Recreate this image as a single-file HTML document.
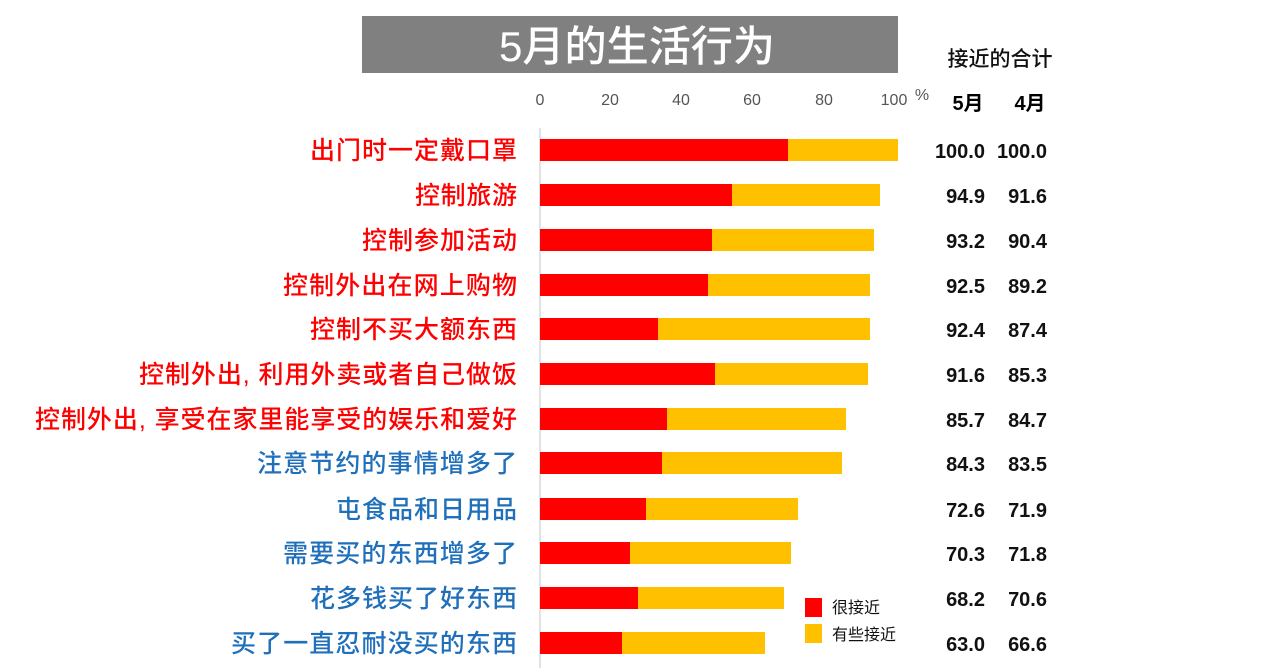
<!DOCTYPE html>
<html><head><meta charset="utf-8"><style>html,body{margin:0;padding:0;background:#fff;width:1280px;height:672px;overflow:hidden}</style></head><body>
<svg width="1280" height="672" xmlns="http://www.w3.org/2000/svg" font-family="Liberation Sans, Noto Sans CJK SC, sans-serif">
<rect x="362" y="16" width="536" height="57" fill="#808080"/>
<text x="637" y="61" text-anchor="middle" fill="#fff" font-size="42" font-weight="500" textLength="276" lengthAdjust="spacingAndGlyphs">5月的生活行为</text>
<text x="1000" y="66" text-anchor="middle" font-size="21" font-weight="500" fill="#111">接近的合计</text>
<g font-size="16" fill="#555" text-anchor="middle">
<text x="540" y="105">0</text><text x="610" y="105">20</text><text x="681" y="105">40</text><text x="752" y="105">60</text><text x="824" y="105">80</text><text x="894" y="105">100</text><text x="922" y="100">%</text>
</g>
<text x="968" y="110" text-anchor="middle" font-size="20" font-weight="bold">5月</text>
<text x="1030" y="110" text-anchor="middle" font-size="20" font-weight="bold">4月</text>
<line x1="540" y1="128" x2="540" y2="668" stroke="#d9d9d9" stroke-width="1.5"/>
<g id="bars">
<rect x="540" y="139" width="358" height="22" fill="#ffc000"/><rect x="540" y="139" width="248" height="22" fill="#ff0000"/>
<rect x="540" y="184" width="340" height="22" fill="#ffc000"/><rect x="540" y="184" width="192" height="22" fill="#ff0000"/>
<rect x="540" y="229" width="334" height="22" fill="#ffc000"/><rect x="540" y="229" width="172" height="22" fill="#ff0000"/>
<rect x="540" y="274" width="330" height="22" fill="#ffc000"/><rect x="540" y="274" width="168" height="22" fill="#ff0000"/>
<rect x="540" y="318" width="330" height="22" fill="#ffc000"/><rect x="540" y="318" width="118" height="22" fill="#ff0000"/>
<rect x="540" y="363" width="328" height="22" fill="#ffc000"/><rect x="540" y="363" width="175" height="22" fill="#ff0000"/>
<rect x="540" y="408" width="306" height="22" fill="#ffc000"/><rect x="540" y="408" width="127" height="22" fill="#ff0000"/>
<rect x="540" y="452" width="302" height="22" fill="#ffc000"/><rect x="540" y="452" width="122" height="22" fill="#ff0000"/>
<rect x="540" y="498" width="258" height="22" fill="#ffc000"/><rect x="540" y="498" width="106" height="22" fill="#ff0000"/>
<rect x="540" y="542" width="251" height="22" fill="#ffc000"/><rect x="540" y="542" width="90" height="22" fill="#ff0000"/>
<rect x="540" y="587" width="244" height="22" fill="#ffc000"/><rect x="540" y="587" width="98" height="22" fill="#ff0000"/>
<rect x="540" y="632" width="225" height="22" fill="#ffc000"/><rect x="540" y="632" width="82" height="22" fill="#ff0000"/>
</g>
<g font-size="25" font-weight="500" text-anchor="start" lengthAdjust="spacingAndGlyphs">
<text x="310" y="159" fill="#f00" textLength="207">出门时一定戴口罩</text>
<text x="415" y="204" fill="#f00" textLength="102">控制旅游</text>
<text x="362" y="249" fill="#f00" textLength="155">控制参加活动</text>
<text x="283" y="294" fill="#f00" textLength="234">控制外出在网上购物</text>
<text x="310" y="338" fill="#f00" textLength="207">控制不买大额东西</text>
<text x="139" y="383" fill="#f00" textLength="378">控制外出, 利用外卖或者自己做饭</text>
<text x="35" y="428" fill="#f00" textLength="482">控制外出, 享受在家里能享受的娱乐和爱好</text>
<text x="257" y="472" fill="#1f6fba" textLength="260">注意节约的事情增多了</text>
<text x="336" y="518" fill="#1f6fba" textLength="181">屯食品和日用品</text>
<text x="283" y="562" fill="#1f6fba" textLength="234">需要买的东西增多了</text>
<text x="310" y="607" fill="#1f6fba" textLength="207">花多钱买了好东西</text>
<text x="231" y="652" fill="#1f6fba" textLength="286">买了一直忍耐没买的东西</text>
</g>
<g font-size="20" font-weight="bold" text-anchor="end" fill="#111">
<text x="985" y="158">100.0</text><text x="1047" y="158">100.0</text>
<text x="985" y="203">94.9</text><text x="1047" y="203">91.6</text>
<text x="985" y="248">93.2</text><text x="1047" y="248">90.4</text>
<text x="985" y="293">92.5</text><text x="1047" y="293">89.2</text>
<text x="985" y="337">92.4</text><text x="1047" y="337">87.4</text>
<text x="985" y="382">91.6</text><text x="1047" y="382">85.3</text>
<text x="985" y="427">85.7</text><text x="1047" y="427">84.7</text>
<text x="985" y="471">84.3</text><text x="1047" y="471">83.5</text>
<text x="985" y="517">72.6</text><text x="1047" y="517">71.9</text>
<text x="985" y="561">70.3</text><text x="1047" y="561">71.8</text>
<text x="985" y="606">68.2</text><text x="1047" y="606">70.6</text>
<text x="985" y="651">63.0</text><text x="1047" y="651">66.6</text>
</g>
<rect x="805" y="598" width="17" height="19" fill="#ff0000"/>
<rect x="805" y="624" width="17" height="19" fill="#ffc000"/>
<text x="832" y="613" font-size="16" fill="#111">很接近</text>
<text x="832" y="640" font-size="16" fill="#111">有些接近</text>
</svg>
</body></html>
